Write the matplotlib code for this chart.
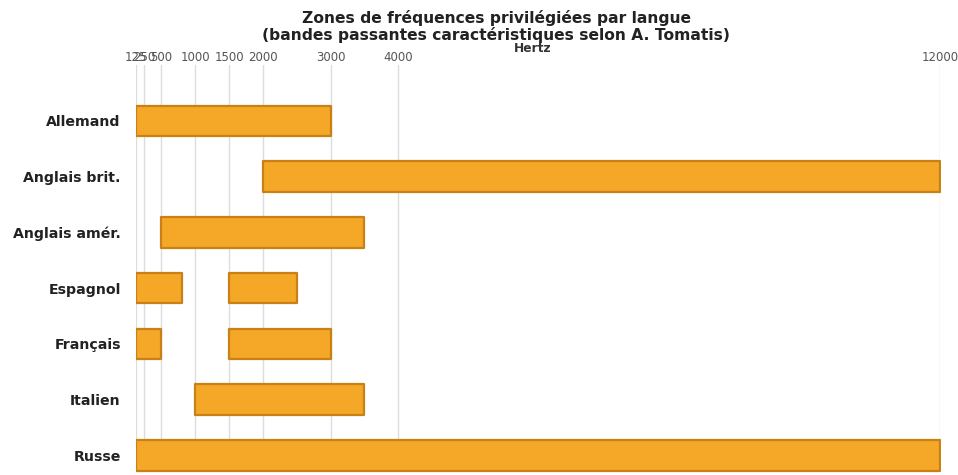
import matplotlib
matplotlib.use("Agg")
import matplotlib.pyplot as plt

languages = ["Allemand", "Anglais brit.", "Anglais amér.", "Espagnol", "Français", "Italien", "Russe"]
# frequency bands (start Hz, end Hz) per language
bands = [
    [(125, 3000)],
    [(2000, 12000)],
    [(500, 3500)],
    [(125, 800), (1500, 2500)],
    [(125, 500), (1500, 3000)],
    [(1000, 3500)],
    [(125, 12000)],
]
tick_values = [125, 250, 500, 1000, 1500, 2000, 3000, 4000, 12000]

fig = plt.figure(figsize=(9.58, 4.75), dpi=100)
ax = fig.add_axes([0.142, 0.006, 0.839, 0.857])

for i, segs in enumerate(bands):
    ax.broken_barh([(s, e - s) for s, e in segs], (i - 0.275, 0.55),
                   facecolors="#F5A728", edgecolors="#C98015", linewidth=1.6, zorder=3)

ax.set_xlim(125, 12000)
ax.set_ylim(6.3, -1)
ax.set_yticks(range(len(languages)))
ax.set_yticklabels(languages, fontsize=10.2, fontweight="bold", color="#222222")
ax.xaxis.tick_top()
ax.xaxis.set_label_position("top")
ax.set_xticks(tick_values)
ax.set_xticklabels([str(v) for v in tick_values], fontsize=8.5, color="#555555")
ax.tick_params(axis="x", length=0, pad=1)
ax.tick_params(axis="y", length=0, pad=11)
ax.set_xlabel("Hertz", fontsize=8.8, fontweight="bold", color="#333333")
ax.xaxis.set_label_coords(0.493, 1.0 + 10 / 407)
ax.xaxis.label.set_va("bottom")
ax.grid(axis="x", color="#dddddd", linewidth=1, zorder=0)
for sp in ax.spines.values():
    sp.set_visible(False)

fig.text(0.518, 0.978, "Zones de fréquences privilégiées par langue\n(bandes passantes caractéristiques selon A. Tomatis)",
         ha="center", va="top", fontsize=11.2, fontweight="bold", color="#222222", linespacing=1.05)

fig.savefig("out.png", dpi=100)
